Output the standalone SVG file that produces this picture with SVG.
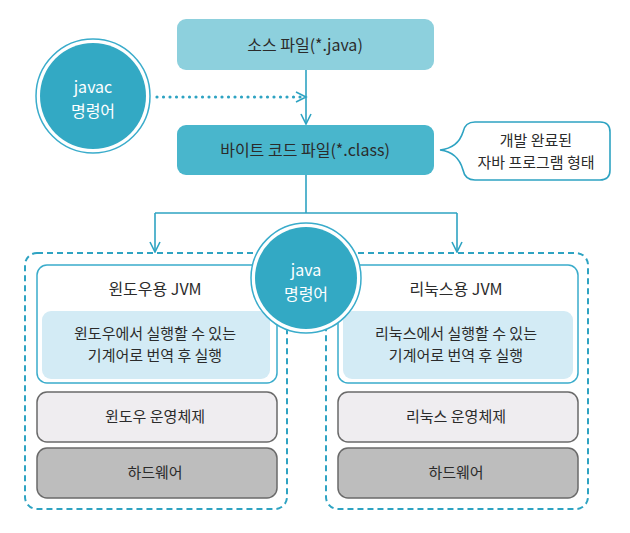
<svg xmlns="http://www.w3.org/2000/svg" width="630" height="533" viewBox="0 0 630 533">
<defs>
<style>
.t{font-family:"Noto Sans CJK KR","Noto Sans",sans-serif;fill:#2b2b2b;text-anchor:middle}
.w{font-family:"Noto Sans CJK KR","Noto Sans",sans-serif;fill:#ffffff;text-anchor:middle}
.line{fill:none;stroke:#2ea3c2;stroke-width:1.6}
.dash{fill:none;stroke:#2ea3c2;stroke-width:2;stroke-dasharray:6 4}
.jvm{fill:#ffffff;stroke:#3aaccb;stroke-width:1.5}
.inner{fill:#d3ebf5}
.os{fill:#efedf0;stroke:#6a6a6a;stroke-width:1.5}
.hw{fill:#bdbdbd;stroke:#6a6a6a;stroke-width:1.5}
</style>
<marker id="chev" viewBox="0 0 12 12" refX="11" refY="6" markerWidth="12" markerHeight="12" markerUnits="userSpaceOnUse" orient="auto">
<path d="M1,1 L11,6 L1,11" fill="none" stroke="#2ea3c2" stroke-width="1.6"/>
</marker>
</defs>

<g id="container-left"><rect class="dash" x="25" y="253" width="262" height="256" rx="12"/></g>
<g id="container-right"><rect class="dash" x="326" y="253" width="262" height="256" rx="12"/></g>

<g id="connectors">
<line class="line" x1="306" y1="70" x2="306" y2="124" marker-end="url(#chev)"/>
<line x1="157" y1="97" x2="303" y2="97" fill="none" stroke="#2ea3c2" stroke-width="3.2" stroke-linecap="round" stroke-dasharray="0 6.5"/>
<path class="line" d="M296,92 L306,97 L296,102"/>
<path class="line" d="M306,175 V213"/>
<path class="line" d="M155,213 H457"/>
<line class="line" x1="155" y1="213" x2="155" y2="252" marker-end="url(#chev)"/>
<line class="line" x1="457" y1="213" x2="457" y2="252" marker-end="url(#chev)"/>
</g>

<g id="source-file">
<rect x="177" y="19" width="257" height="51" rx="9" fill="#8dd0dd"/>
<text class="t" x="305" y="51" font-size="16">소스 파일(*.java)</text>
</g>

<g id="javac">
<circle cx="93" cy="96" r="57" fill="#ffffff" stroke="#3aaccb" stroke-width="1.5"/>
<circle cx="93" cy="96" r="53" fill="#33a9c4"/>
<text class="w" x="93" y="93" font-size="16">javac</text>
<text class="w" x="93" y="117" font-size="16">명령어</text>
</g>

<g id="bytecode-file">
<rect x="177" y="125" width="257" height="50" rx="9" fill="#49b6cc"/>
<text class="t" x="305" y="156" font-size="16">바이트 코드 파일(*.class)</text>
</g>

<g id="note">
<path d="M475,122 H600 Q610,122 610,132 V170 Q610,180 600,180 H475 Q465,180 463,170 Q458,152 440,150 Q458,148 463,132 Q465,122 475,122 Z" fill="#ffffff" stroke="#2ea3c2" stroke-width="1.6"/>
<text class="t" x="536" y="146" font-size="15">개발 완료된</text>
<text class="t" x="536" y="168" font-size="15">자바 프로그램 형태</text>
</g>

<g id="jvm-windows">
<rect class="jvm" x="37" y="265" width="240" height="118" rx="10"/>
<text class="t" x="155" y="295" font-size="16">윈도우용 JVM</text>
<rect class="inner" x="42" y="311" width="228" height="68" rx="9"/>
<text class="t" x="155" y="339" font-size="15">윈도우에서 실행할 수 있는</text>
<text class="t" x="155" y="361" font-size="15">기계어로 번역 후 실행</text>
</g>

<g id="jvm-linux">
<rect class="jvm" x="338" y="265" width="240" height="118" rx="10"/>
<text class="t" x="456" y="295" font-size="16">리눅스용 JVM</text>
<rect class="inner" x="343" y="311" width="230" height="68" rx="9"/>
<text class="t" x="456" y="339" font-size="15">리눅스에서 실행할 수 있는</text>
<text class="t" x="456" y="361" font-size="15">기계어로 번역 후 실행</text>
</g>

<g id="os-windows">
<rect class="os" x="37" y="392" width="240" height="50" rx="10"/>
<text class="t" x="155" y="422" font-size="15">윈도우 운영체제</text>
</g>
<g id="os-linux">
<rect class="os" x="338" y="392" width="240" height="50" rx="10"/>
<text class="t" x="456" y="422" font-size="15">리눅스 운영체제</text>
</g>
<g id="hw-windows">
<rect class="hw" x="37" y="448" width="240" height="50" rx="10"/>
<text class="t" x="155" y="478" font-size="15">하드웨어</text>
</g>
<g id="hw-linux">
<rect class="hw" x="338" y="448" width="240" height="50" rx="10"/>
<text class="t" x="456" y="478" font-size="15">하드웨어</text>
</g>

<g id="java">
<circle cx="306" cy="278" r="55" fill="#ffffff" stroke="#3aaccb" stroke-width="1.5"/>
<circle cx="306" cy="278" r="51" fill="#33a9c4"/>
<text class="w" x="306" y="276" font-size="16">java</text>
<text class="w" x="306" y="300" font-size="16">명령어</text>
</g>
</svg>
